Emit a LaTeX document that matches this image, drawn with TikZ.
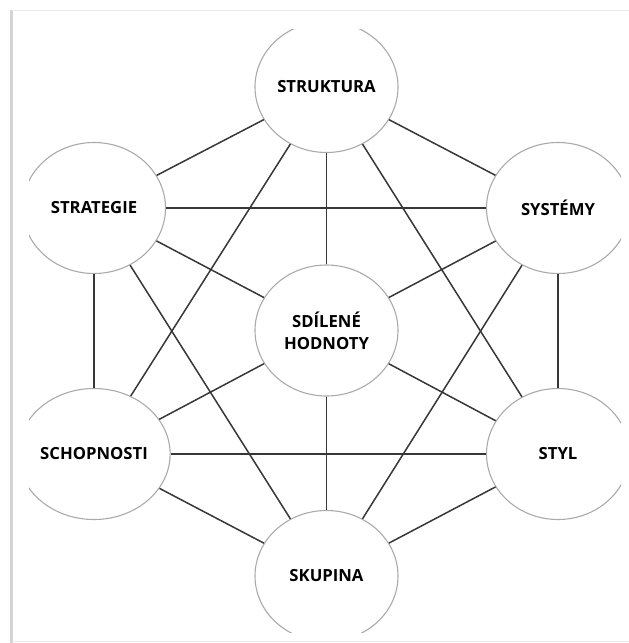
\documentclass[tikz,border=0pt]{standalone}
\usepackage{fontspec}
\setmainfont{Open Sans}
\usetikzlibrary{shapes.geometric}
\definecolor{rimgray}{RGB}{170,170,170}
\definecolor{linkgray}{RGB}{55,55,55}
\definecolor{framegray}{RGB}{212,212,212}

\begin{document}
\begin{tikzpicture}[x=1pt,y=-1pt,
  circ/.style={ellipse,draw=rimgray,line width=1.1pt,fill=white,
    minimum width=143pt,minimum height=131pt,inner sep=0pt,align=center,
    font=\fontsize{16.7}{22}\selectfont\bfseries},
  link/.style={linkgray,line width=1.5pt}]
  \useasboundingbox (0,0) rectangle (629,643);

  % Frame
  \draw[framegray,line width=2.5pt] (11.5,10) -- (11.5,643);
  \draw[framegray!50,line width=1pt] (11.5,10) -- (629,10);
  \draw[framegray!50,line width=1pt] (11.5,641.5) -- (629,641.5);

  \begin{scope}
    \clip (29,29) rectangle (621,632);

    % Elements
    \node[circ] (struktura) at (326.5,87) {STRUKTURA};
    \node[circ] (strategie) at (94,208) {STRATEGIE};
    \node[circ] (systemy) at (558,208) {SYSTÉMY};
    \node[circ] (hodnoty) at (326.5,330.5) {SDÍLENÉ\\HODNOTY};
    \node[circ] (schopnosti) at (94,454) {SCHOPNOSTI};
    \node[circ] (styl) at (558,454) {STYL};
    \node[circ] (skupina) at (326.5,576) {SKUPINA};

    % Links
    \foreach \a/\b in {struktura/strategie, struktura/systemy, struktura/hodnoty,
      struktura/schopnosti, struktura/styl, strategie/systemy, strategie/hodnoty,
      strategie/schopnosti, strategie/skupina, systemy/hodnoty, systemy/styl,
      systemy/skupina, hodnoty/schopnosti, hodnoty/styl, hodnoty/skupina,
      schopnosti/styl, schopnosti/skupina, styl/skupina} {
      \draw[link] (\a) -- (\b);
    }
  \end{scope}
\end{tikzpicture}
\end{document}
